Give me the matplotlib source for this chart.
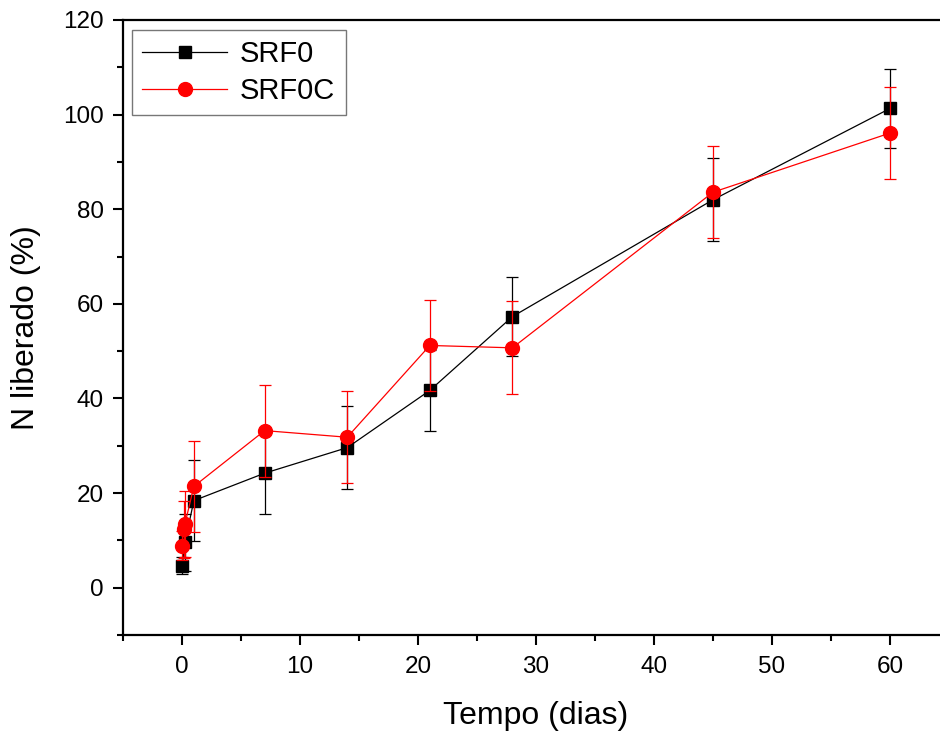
import matplotlib

matplotlib.use("Agg")
import matplotlib.pyplot as plt   # noqa: E402
from matplotlib.ticker import MultipleLocator   # noqa: E402

# days
t_srf0 = [0, 0.25, 1, 7, 14, 21, 28, 45, 60]
n_srf0 = [4.6, 9.6, 18.4, 24.2, 29.6, 41.7, 57.3, 82.0, 101.3]
e_srf0 = [1.8, 6.0, 8.5, 8.6, 8.7, 8.5, 8.3, 8.8, 8.3]

t_srf0c = [0, 0.125, 0.25, 1, 7, 14, 21, 28, 45, 60]
n_srf0c = [8.9, 12.3, 13.5, 21.4, 33.2, 31.8, 51.2, 50.7, 83.6, 96.1]
e_srf0c = [3.0, 6.0, 7.0, 9.7, 9.7, 9.7, 9.7, 9.8, 9.7, 9.8]

plt.rcParams["font.family"] = ["Liberation Sans", "DejaVu Sans"]

fig = plt.figure(figsize=(9.4, 7.38), dpi=100)
ax = fig.add_axes([0.1309, 0.1396, 0.8787, 0.8333])

b = ax.errorbar(t_srf0, n_srf0, yerr=e_srf0, color="black", lw=0.9,
                marker="s", ms=8.5, capsize=4.5, elinewidth=0.9,
                capthick=0.9, label="SRF0", zorder=2)
r = ax.errorbar(t_srf0c, n_srf0c, yerr=e_srf0c, color="#ff0000", lw=0.9,
                marker="o", ms=10, capsize=4.5, elinewidth=0.9,
                capthick=0.9, label="SRF0C", zorder=3)

ax.set_xlim(-5, 65)
ax.set_ylim(-10, 120)
ax.xaxis.set_major_locator(MultipleLocator(10))
ax.xaxis.set_minor_locator(MultipleLocator(5))
ax.yaxis.set_major_locator(MultipleLocator(20))
ax.yaxis.set_minor_locator(MultipleLocator(10))
ax.tick_params(which="both", direction="out", width=1.5, labelsize=17.5)
ax.tick_params(which="major", length=7)
ax.tick_params(which="minor", length=4.5)
ax.tick_params(axis="y", which="major", pad=7)
ax.tick_params(axis="x", which="major", pad=8)
for sp in ax.spines.values():
    sp.set_linewidth(1.6)

ax.set_xlabel("Tempo (dias)", fontsize=23, labelpad=17)
ax.set_ylabel("N liberado (%)", fontsize=23, labelpad=16)

leg = ax.legend([b[0], r[0]], ["SRF0", "SRF0C"], loc="upper left",
                fontsize=21, frameon=True, fancybox=False,
                edgecolor="#555555", handlelength=2.9, borderpad=0.35,
                labelspacing=0.3, handletextpad=0.45, borderaxespad=0,
                bbox_to_anchor=(0.011, 0.984))
leg.get_frame().set_linewidth(1.0)

fig.savefig("out.png", dpi=100)
plt.close(fig)
